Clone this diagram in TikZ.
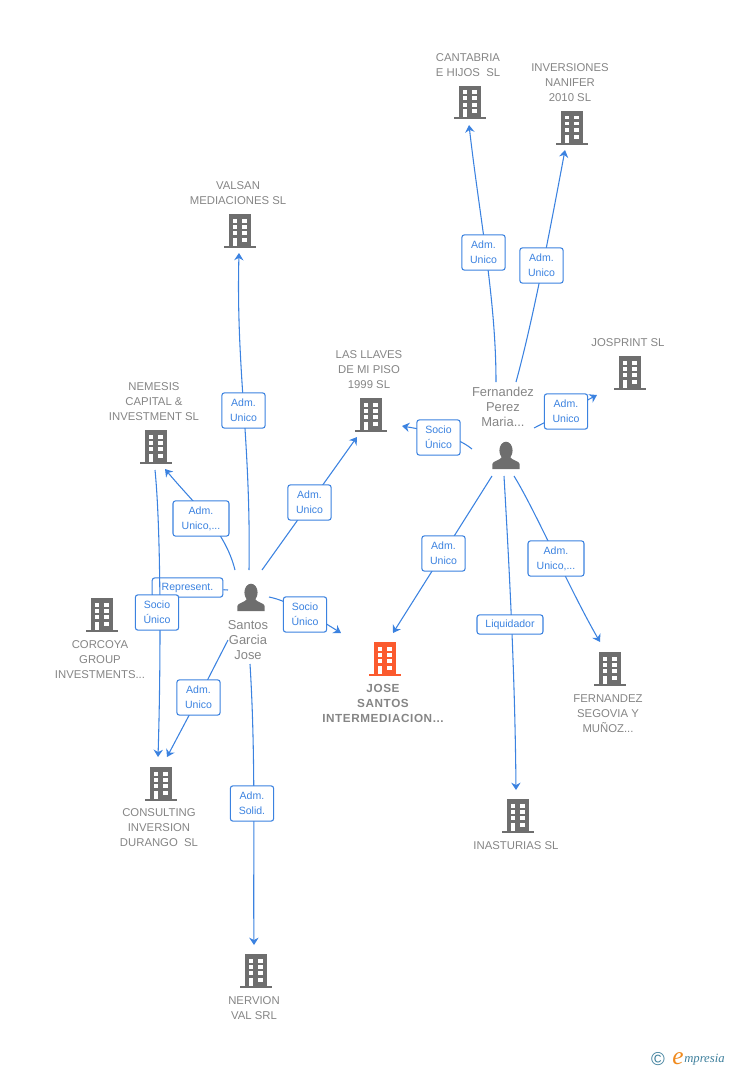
\documentclass[tikz,border=0pt]{standalone}
\usepackage{fontspec}
\setmainfont{Liberation Sans}
\newfontfamily\logofont[Ligatures=TeX]{Liberation Serif}
\usetikzlibrary{arrows.meta,backgrounds}

\definecolor{linkblue}{HTML}{3B82E0}
\definecolor{iconblack}{HTML}{6E6E6E}
\definecolor{namegray}{HTML}{858585}
\definecolor{mainred}{HTML}{FB5A2E}
\definecolor{logoteal}{HTML}{3E7F9C}
\definecolor{logoorange}{HTML}{F08A1E}

\begin{document}
\begin{tikzpicture}[x=.75pt,y=-.75pt]
    % Styles
    \tikzset{
        link/.style={draw=linkblue, line width=.8pt},
        linkarrow/.style={link, -{Stealth[length=5.5pt,width=7pt,inset=1.8pt]}},
        relbox/.style={draw=linkblue, line width=.8pt, fill=white, rounded corners=2pt, inner sep=0pt, text=linkblue, align=center, minimum width=32.5pt, minimum height=26.5pt, font=\fontsize{7.9}{11.25}\selectfont},
        relwide/.style={relbox, minimum width=42pt},
        relflat/.style={relbox, minimum height=14.5pt},
        company/.style={text=namegray, align=center, inner sep=0pt, yshift=-.6pt, font=\fontsize{8.5}{11.25}\selectfont},
        person/.style={text=namegray, align=center, inner sep=0pt, font=\fontsize{9.7}{11.25}\selectfont},
        mainco/.style={text=namegray, align=center, inner sep=0pt, yshift=-.6pt, font=\addfontfeature{LetterSpace=5}\fontsize{8.8}{11.25}\selectfont\bfseries},
        building/.pic={
            \fill[pic actions] (-16,-2.4) rectangle (16,0);
            \fill[pic actions] (-11,-33.6) rectangle (11,-1);
            \foreach \y in {-29.4,-23.4,-16.7,-10.1}
                \foreach \x in {-7.4,2.4}
                    \fill[white] (\x,\y) rectangle ++(4.6,3.9);
            \fill[white] (-7.4,-10.1) rectangle (-2.8,-2.4);
        },
        avatar/.pic={
            \fill[iconblack] (0,-18.5) ellipse (6.6 and 8.8);
            \fill[iconblack] (-13.6,0) -- (-13.6,-5) .. controls (-13.6,-8) and (-6,-8.5) .. (-4,-12)
                -- (4,-12) .. controls (6,-8.5) and (13.6,-8) .. (13.6,-5) -- (13.6,0) -- cycle;
        }
    }

    \useasboundingbox (0,0) rectangle (728,1070);

    % Companies
    \pic[fill=iconblack] (cantabria) at (470,119.5) {building};
    \node[company] (cantabrianame) at (468,64.5) {CANTABRIA\\E HIJOS\ \ SL};
    \pic[fill=iconblack] (nanifer) at (572,145) {building};
    \node[company] (nanifername) at (570,82) {INVERSIONES\\NANIFER\\2010 SL};
    \pic[fill=iconblack] (valsan) at (240,248) {building};
    \node[company] (valsanname) at (238,192.5) {VALSAN\\MEDIACIONES SL};
    \pic[fill=iconblack] (josprint) at (630,390) {building};
    \node[company] (josprintname) at (628,342) {JOSPRINT SL};
    \pic[fill=iconblack] (llaves) at (371,432) {building};
    \node[company] (llavesname) at (369,369) {LAS LLAVES\\DE MI PISO\\1999 SL};
    \pic[fill=iconblack] (nemesis) at (156,464) {building};
    \node[company] (nemesisname) at (154,401) {NEMESIS\\CAPITAL \&\\INVESTMENT SL};
    \pic[fill=iconblack] (corcoya) at (102,632) {building};
    \node[company] (corcoyaname) at (100,659) {CORCOYA\\GROUP\\INVESTMENTS...};
    \pic[fill=mainred] (josesantos) at (385,676) {building};
    \node[mainco] (josesantosname) at (383,703) {JOSE\\SANTOS\\INTERMEDIACION...};
    \pic[fill=iconblack] (segovia) at (610,686) {building};
    \node[company] (segovianame) at (608,713) {FERNANDEZ\\SEGOVIA Y\\MUÑOZ...};
    \pic[fill=iconblack] (consulting) at (161,801) {building};
    \node[company] (consultingname) at (159,827) {CONSULTING\\INVERSION\\DURANGO\ \ SL};
    \pic[fill=iconblack] (inasturias) at (518,833) {building};
    \node[company] (inasturiasname) at (516,845) {INASTURIAS SL};
    \pic[fill=iconblack] (nervion) at (256,988) {building};
    \node[company] (nervionname) at (254,1007.5) {NERVION\\VAL SRL};

    % People
    \pic (santos) at (251,611) {avatar};
    \node[person] (santosname) at (248,640) {Santos\\Garcia\\Jose};
    \pic (fernandez) at (506,469) {avatar};
    \node[person] (fernandezname) at (503,407) {Fernandez\\Perez\\Maria...};

    % Labels
    \node[relbox] (valsanrel) at (243.5,410.5) {Adm.\\Unico};
    \node[relbox] (llavesrel) at (309.5,502.5) {Adm.\\Unico};
    \node[relwide] (nemesisrel) at (201,518.5) {Adm.\\Unico,...};
    \node[relbox] (corcoyarel) at (157,612.5) {Socio\\Único};
    \node[relbox] (joserel) at (305,614.5) {Socio\\Único};
    \node[relbox] (consultingrel) at (198.5,697.5) {Adm.\\Unico};
    \node[relbox] (nervionrel) at (252,803.5) {Adm.\\Solid.};
    \node[relbox] (cantabriarel) at (483.5,252.5) {Adm.\\Unico};
    \node[relbox] (naniferrel) at (541.5,265.5) {Adm.\\Unico};
    \node[relbox] (josprintrel) at (566,411.5) {Adm.\\Unico};
    \node[relbox] (llaves2rel) at (438.5,437.5) {Socio\\Único};
    \node[relbox] (jose2rel) at (443.5,553.5) {Adm.\\Unico};
    \node[relwide] (segoviarel) at (556,558.5) {Adm.\\Unico,...};
    \node[relflat, minimum width=49.5pt] (inasturiasrel) at (510,624.5) {Liquidador};

    % Free ends
    \foreach \n/\x/\y in {s1/249/570, s2/262/570, s3/235/570, s4/228/590, s5/269/597, s6/228/640, s7/250/664,
            f1/496/382, f2/516/382, f3/534/428, f4/472/449, f5/492/476, f6/504/476, f7/514/476,
            t1/239/253, t2/357/437, t3/165/469, t5/341/633, t6/167/757, t7/254/945, t8/158/757, b8/155/470,
            u1/469/125, u2/565/150, u3/597/395, u4/402/426, u5/393/633, u6/516/790, u7/600/642}
        \coordinate (\n) at (\x,\y);

    % Links
    \begin{scope}[on background layer]
        \node[relflat, minimum width=53pt] (corcoya2rel) at (187.5,587.5) {Represent.};
        \draw[link] (s4) -- (corcoya2rel);
        \draw[linkarrow] (b8) .. controls (161,530) and (161,660) .. (t8);
        \draw[linkarrow] (s1) .. controls (251,440) and (236,370) .. (t1);
        \draw[linkarrow] (s2) -- (t2);
        \draw[linkarrow] (s3) .. controls (225,530) and (195,505) .. (t3);
        \draw[linkarrow] (s5) .. controls (290,601) and (320,620) .. (t5);
        \draw[linkarrow] (s6) -- (consultingrel.center) -- (t6);
        \draw[linkarrow] (s7) .. controls (256,760) and (253,860) .. (t7);
        \draw[linkarrow] (f1) .. controls (496,300) and (480,220) .. (u1);
        \draw[linkarrow] (f2) .. controls (533,320) and (550,230) .. (u2);
        \draw[linkarrow] (f3) -- (josprintrel.center) -- (u3);
        \draw[linkarrow] (f4) .. controls (455,435) and (425,430) .. (u4);
        \draw[linkarrow] (f5) -- (u5);
        \draw[linkarrow] (f6) .. controls (510,580) and (515,680) .. (u6);
        \draw[linkarrow] (f7) .. controls (535,510) and (570,590) .. (u7);
    \end{scope}

    % Logo
    \node[text=logoteal, inner sep=0pt, font=\fontsize{14}{14}\selectfont] (logomark) at (658,1059) {©};
    \node[text=logoorange, inner sep=0pt, font=\logofont\itshape\fontsize{19}{19}\selectfont] (logoe) at (678,1059) {e};
    \node[text=logoteal, anchor=west, inner sep=0pt, font=\logofont\itshape\fontsize{9.5}{9.5}\selectfont] (logotext) at (684,1060) {mpresia};
\end{tikzpicture}
\end{document}
